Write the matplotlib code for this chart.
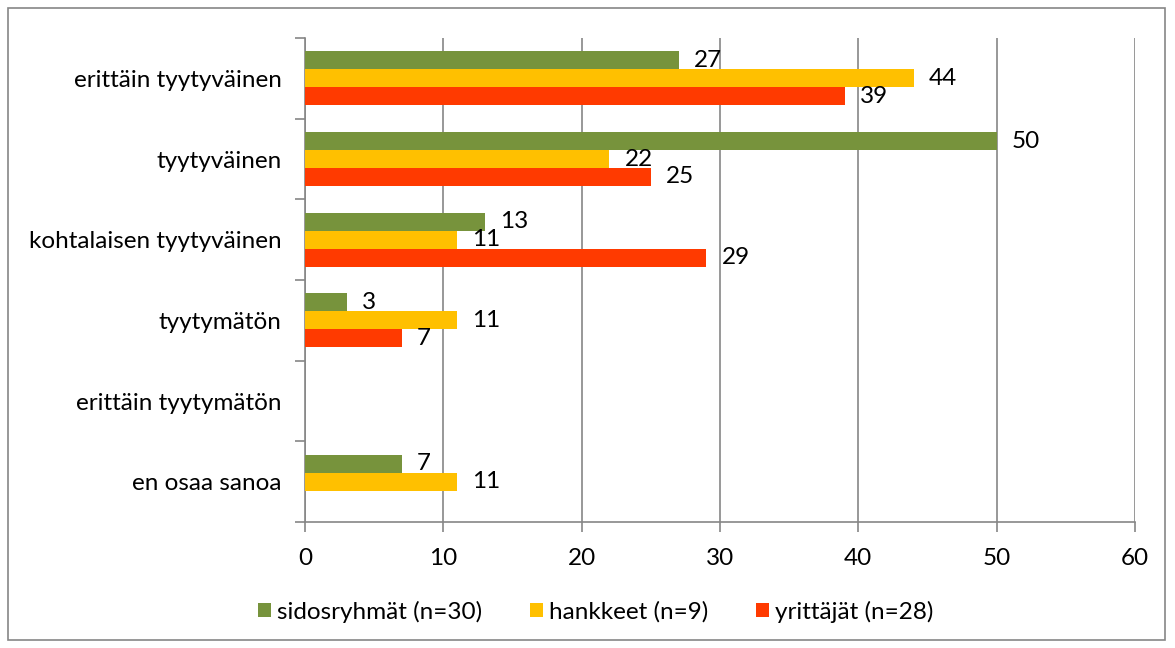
"""Tyytyväisyys: sidosryhmät, hankkeet, yrittäjät (%)"""

import matplotlib
matplotlib.use('Agg')
from matplotlib import pyplot as plt
from matplotlib.patches import Rectangle
import numpy as np

plt.rcParams['font.family'] = ['Lato', 'DejaVu Sans']

categories = ['erittäin tyytyväinen', 'tyytyväinen', 'kohtalaisen tyytyväinen',
              'tyytymätön', 'erittäin tyytymätön', 'en osaa sanoa']
series_names = ['sidosryhmät (n=30)', 'hankkeet (n=9)', 'yrittäjät (n=28)']
sidosryhmat = [27, 50, 13, 3, 0, 7]
hankkeet = [44, 22, 11, 11, 0, 11]
yrittajat = [39, 25, 29, 7, 0, 0]
x_ticks = [0, 10, 20, 30, 40, 50, 60]

colors = ['#77933C', '#FFC000', '#FF3A00']
series = [sidosryhmat, hankkeet, yrittajat]
fs = 17.5

fig = plt.figure(figsize=(11.75, 6.48), dpi=100)
ax = fig.add_axes([305/1175, 1 - 522/648, 830/1175, 484/648])

n = len(categories)
ypos = np.arange(n)
h = 0.223
for i, (vals, col, name) in enumerate(zip(series, colors, series_names)):
    yy = ypos + (i - 1) * h
    ax.barh(yy, vals, height=h, color=col, label=name, zorder=3)
    for y, v in zip(yy, vals):
        if v > 0:
            ax.annotate(str(v), xy=(v, y), xytext=(11, 0), textcoords='offset points',
                        ha='left', va='center', fontsize=fs, color='black', zorder=4)

ax.set_xlim(0, 60)
ax.set_ylim(n - 0.5, -0.5)
ax.set_xticks(x_ticks)
ax.set_xticklabels([str(t) for t in x_ticks], fontsize=fs)
ax.set_yticks(ypos)
ax.set_yticklabels(categories, fontsize=fs)
ax.set_yticks(np.arange(-0.5, n, 1), minor=True)
ax.tick_params(axis='y', which='major', length=0, pad=17)
ax.tick_params(axis='y', which='minor', length=7, color='#868686', width=1.2)
ax.tick_params(axis='x', length=7, color='#868686', width=1.2, pad=12)
ax.grid(axis='x', color='#868686', linewidth=1.2, zorder=0)

for s in ['top', 'right']:
    ax.spines[s].set_visible(False)
for s in ['left', 'bottom']:
    ax.spines[s].set_color('#868686')
    ax.spines[s].set_linewidth(1.2)

fig.legend(loc='center', bbox_to_anchor=(0.507, 0.056), ncol=3, frameon=False,
           fontsize=fs, handlelength=0.5, handleheight=0.5, handletextpad=0.25,
           columnspacing=2.0)

fig.patches.append(Rectangle((8/1175, 8/648), 1157/1175, 632/648, transform=fig.transFigure,
                             fill=False, edgecolor='#868686', linewidth=1.2))

fig.savefig('out.png', dpi=100)
